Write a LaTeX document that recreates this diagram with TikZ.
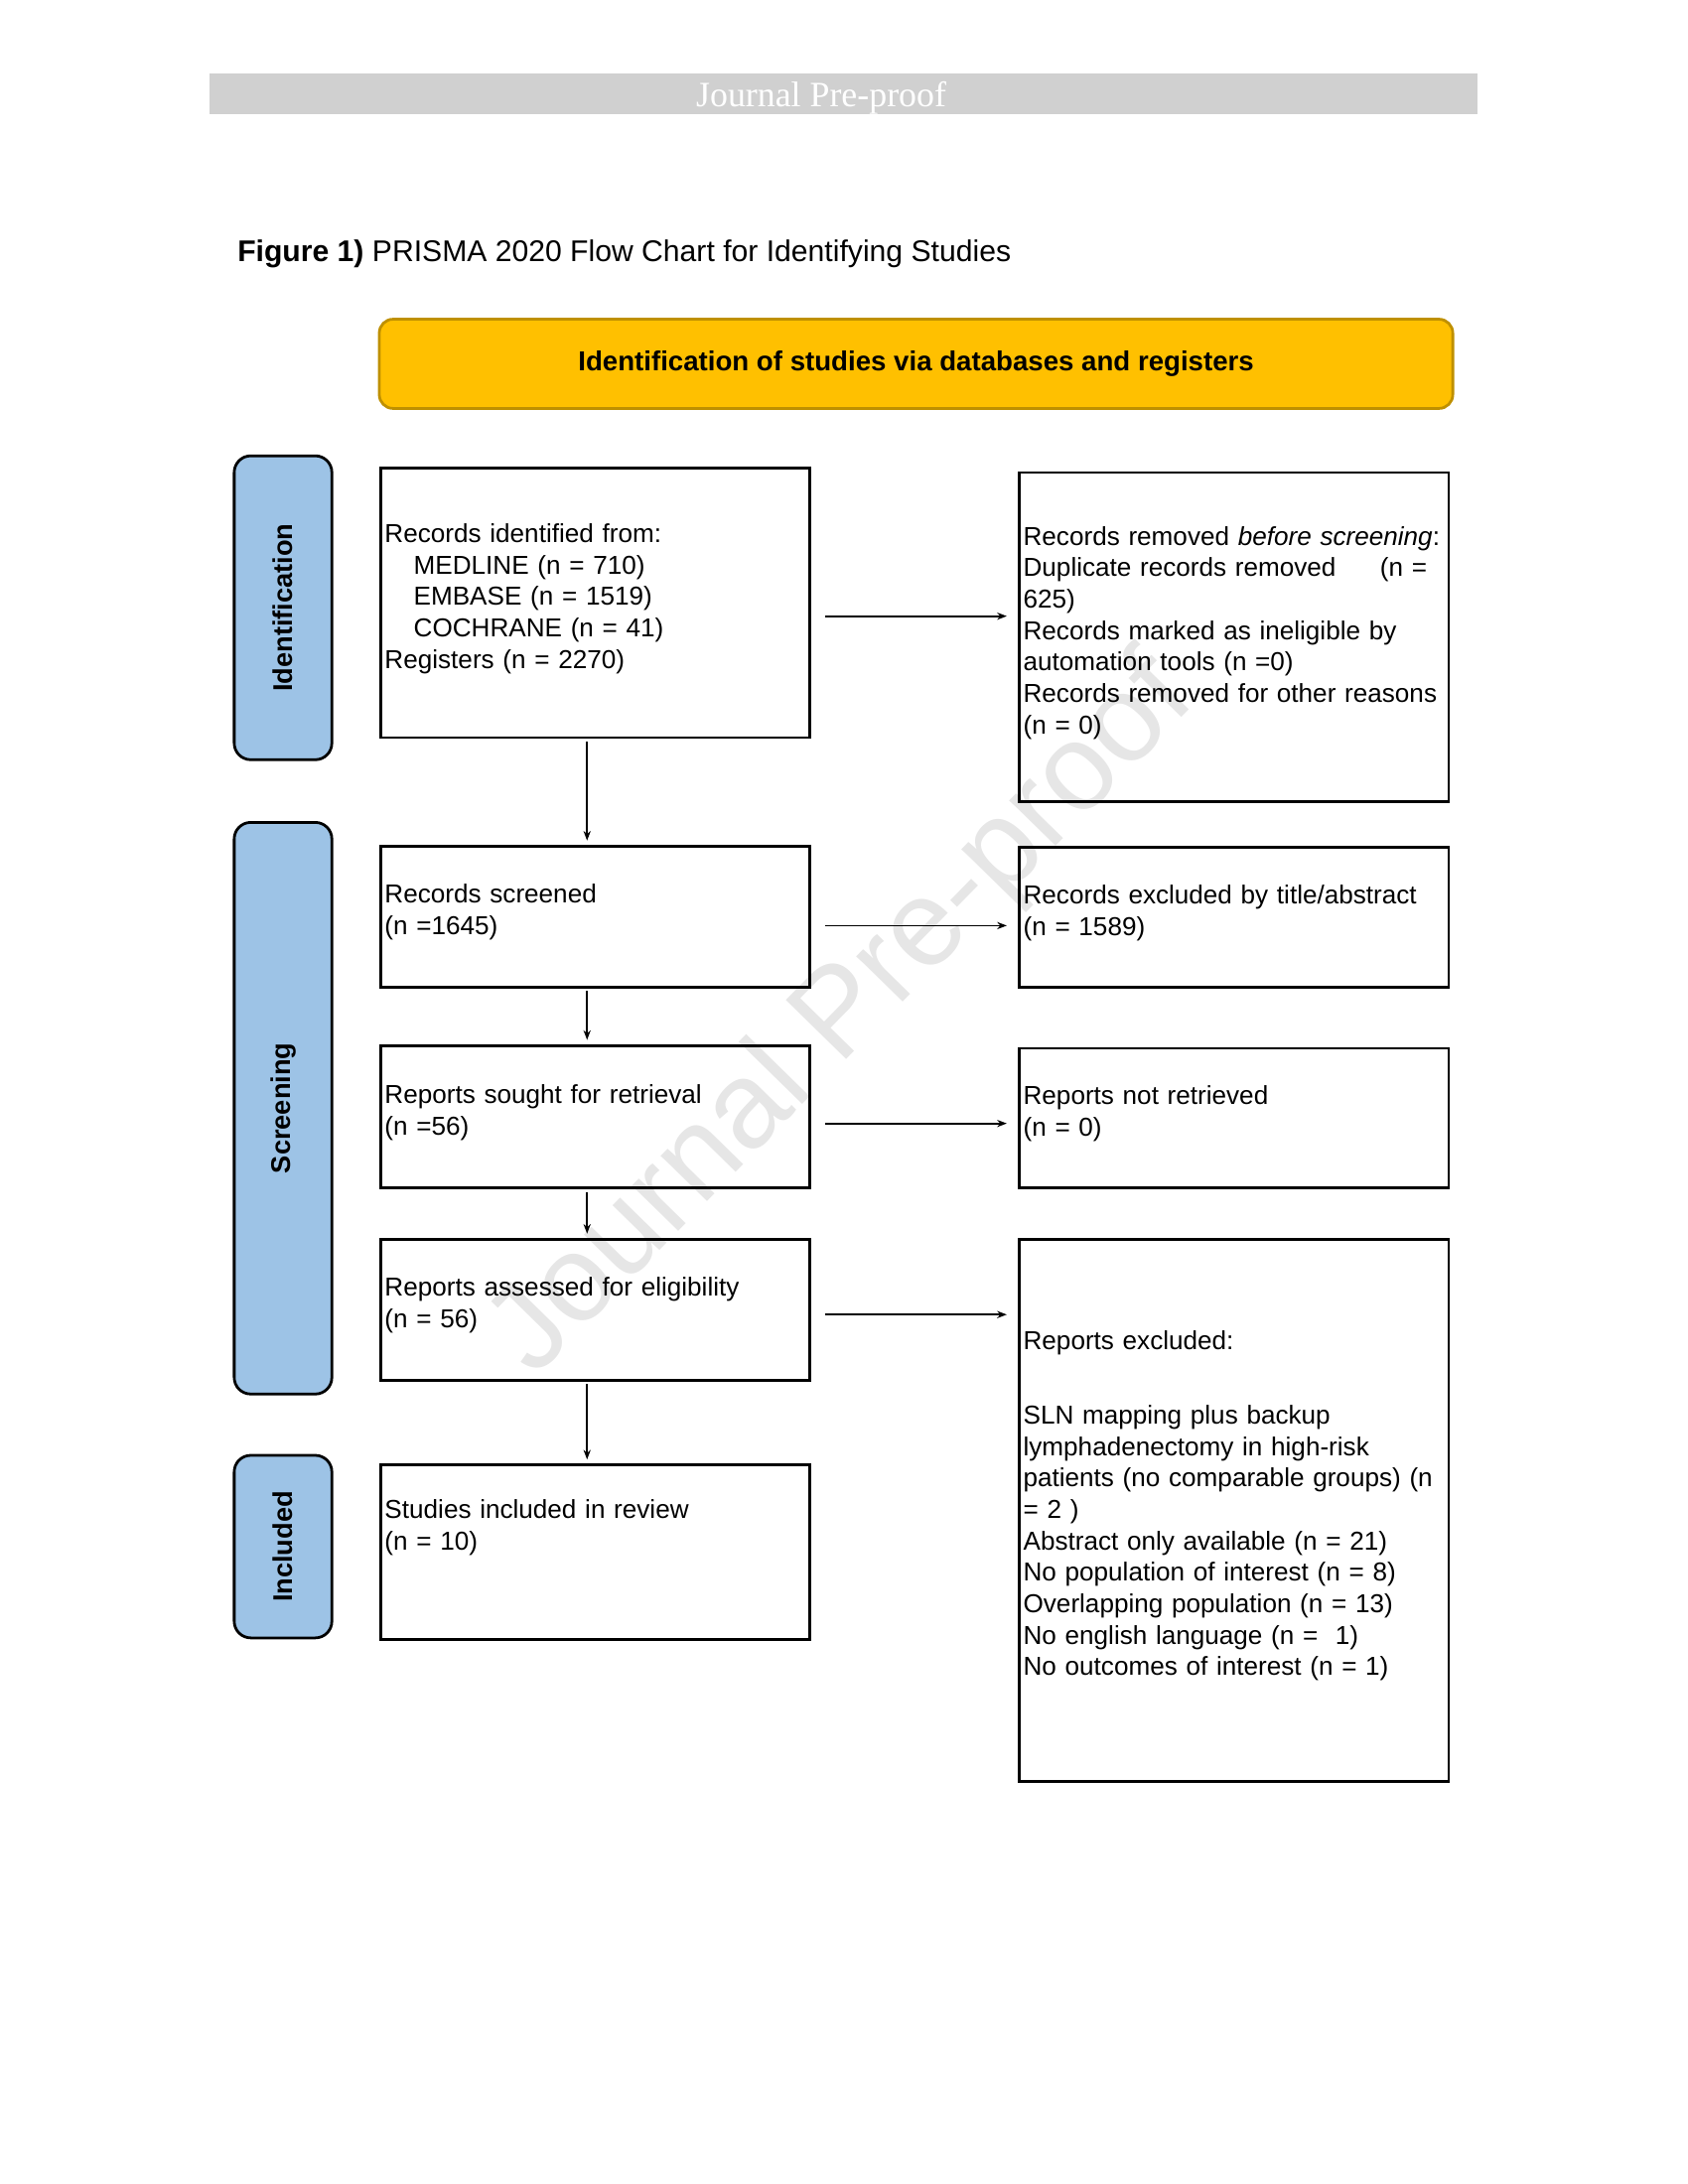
\documentclass[tikz,border=0pt]{standalone}
\usepackage{fontspec}
\setmainfont{Liberation Sans}
\newfontfamily\barfont{Liberation Serif}
\usetikzlibrary{arrows.meta}

\definecolor{barGray}{HTML}{D0D0D0}
\definecolor{headYellow}{HTML}{FFC000}
\definecolor{headEdge}{HTML}{BF9000}
\definecolor{sideBlue}{HTML}{9DC3E6}
\definecolor{markGray}{HTML}{E6E6E6}

\tikzset{
    flowbox/.style={draw, line width=1pt, anchor=north west, inner xsep=1.5pt, inner ysep=0pt,
        text width=152.7pt, align=left, font=\fontsize{9.4}{11.4}\selectfont,
        execute at end node={\par\vspace*{3pt}}},
    sidebox/.style={draw, line width=1pt, fill=sideBlue, rounded corners=6pt, rotate=90,
        minimum height=35.4pt, inner sep=0pt, font=\fontsize{9.8}{12}\selectfont\bfseries},
    arr/.style={line width=0.6pt, -{Stealth[length=3.5pt,width=2.6pt]}}
}

\begin{document}
\begin{tikzpicture}[x=1.011pt, y=-1.011pt]

    \useasboundingbox (0,0) rectangle (605.34,783.38);

    % watermark
    \node(mark)[text=markGray, rotate=45.6, font=\fontsize{44.5}{50}\selectfont] at (302.5,365) {Journal Pre-proof};

    % header bar and title
    \node(bar)[fill=barGray, minimum width=460pt, minimum height=14.46pt, inner sep=0pt] at (302.5,33.65) {};
    \node(barlabel)[text=white, anchor=base, inner sep=0pt, font=\barfont\fontsize{12.9}{14}\selectfont] at (294.5,38.2) {Journal Pre-proof};
    \node(title)[anchor=base west, inner sep=0pt, font=\fontsize{10.85}{13}\selectfont] at (85,93.9) {\textbf{Figure 1)} PRISMA 2020 Flow Chart for Identifying Studies};

    \node(head)[draw=headEdge, line width=1pt, fill=headYellow, rounded corners=5pt, minimum width=389.2pt, minimum height=32.35pt,
        font=\fontsize{9.95}{12}\selectfont\bfseries] at (328.5,130.5) {\raisebox{0.6pt}{Identification of studies via databases and registers}};

    % side labels
    \node(sid)[sidebox, minimum width=110.2pt] at (101.5,218) {Identification};
    \node(ssc)[sidebox, minimum width=207.3pt] at (101.5,397.5) {Screening};
    \node(sin)[sidebox, minimum width=66.2pt] at (101.5,554.75) {Included};

    % left column
    \node(rec)[flowbox, minimum height=97.6pt] at (136,167.5) {Records identified from:\\
        \hspace*{10.5pt}MEDLINE (n = 710)\\
        \hspace*{10.5pt}EMBASE (n = 1519)\\
        \hspace*{10.5pt}COCHRANE (n = 41)\\
        Registers (n = 2270)};
    \node(scr)[flowbox, minimum height=51.05pt] at (136,303) {Records screened\\(n =1645)};
    \node(sou)[flowbox, minimum height=51.56pt] at (136,374.5) {Reports sought for retrieval\\(n =56)};
    \node(ass)[flowbox, minimum height=51.05pt] at (136,444) {Reports assessed for eligibility\\(n = 56)};
    \node(inc)[flowbox, minimum height=63.2pt] at (136,525) {Studies included in review\\(n = 10)\\[5.6pt]\mbox{}};

    % right column
    \node(rem)[flowbox, minimum height=119.3pt] at (365,169) {\mbox{Records removed \textit{before screening}:}\\
        Duplicate records removed\hspace{16pt}(n =\\
        625)\\
        Records marked as ineligible by\\
        automation tools (n =0)\\
        Records removed for other reasons\\
        (n = 0)};
    \node(exc)[flowbox, minimum height=50.55pt] at (365,303.5) {Records excluded by title/abstract\\(n = 1589)};
    \node(nre)[flowbox, minimum height=50.55pt] at (365,375.5) {Reports not retrieved\\(n = 0)};
    \node(rex)[flowbox, minimum height=196.6pt] at (365,444) {Reports excluded:\\[15.5pt]
        SLN mapping plus backup\\
        lymphadenectomy in high-risk\\
        patients (no comparable groups) (n\\
        = 2 )\\
        Abstract only available (n = 21)\\
        No population of interest (n = 8)\\
        Overlapping population (n = 13)\\
        No english language (n = \ 1)\\
        No outcomes of interest (n = 1)};

    % arrows to the right
    \foreach \a/\b/\s in {rec/rem/4.8, scr/exc/3.3, sou/nre/2.5, ass/rex/1.8}
    {
        \coordinate(\a-out) at ([yshift=-\s pt]\a.east);
        \draw[arr, shorten <=5pt, shorten >=4pt] (\a-out) -- (\a-out -| \b.west);
    }

    % arrows downwards
    \foreach \a/\b in {rec/scr, scr/sou, sou/ass, ass/inc}
    {
        \coordinate(\a-down) at ([xshift=-3pt]\a.south);
        \draw[arr, shorten <=1pt, shorten >=1.5pt] (\a-down) -- (\a-down |- \b.north);
    }

\end{tikzpicture}
\end{document}
